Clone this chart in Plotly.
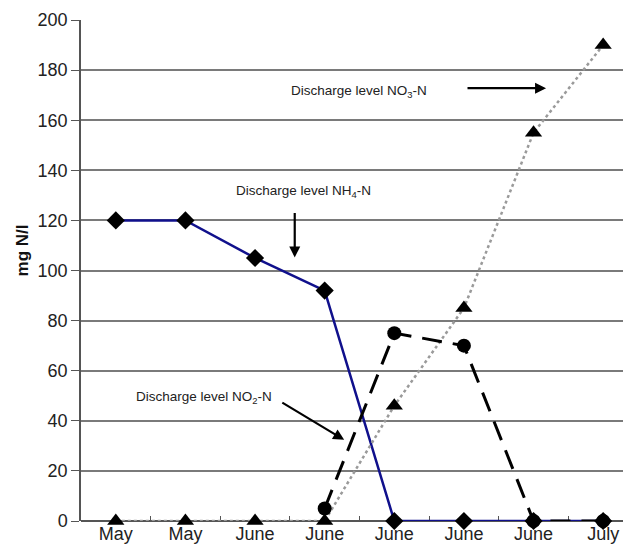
import plotly.graph_objects as go

months = ["May", "May", "June", "June", "June", "June", "June", "July"]
x_idx = list(range(len(months)))

nh4 = [120, 120, 105, 92, 0, 0, 0, 0]
no2_x = [3, 4, 5, 6, 7]
no2 = [5, 75, 70, 0, 0]
no3 = [0, 0, 0, 0, 46, 85, 155, 190]

FONT = "Liberation Sans, Arial, sans-serif"

fig = go.Figure()

fig.add_trace(go.Scatter(
    x=x_idx, y=nh4, mode="lines+markers",
    line=dict(color="#10108c", width=2.5),
    marker=dict(symbol="diamond", size=14, color="black"),
    showlegend=False, cliponaxis=False))

fig.add_trace(go.Scatter(
    x=x_idx, y=no3, mode="lines+markers",
    line=dict(color="#9a9a9a", width=2.5, dash="dot"),
    marker=dict(symbol="triangle-up", size=15, color="black"),
    showlegend=False, cliponaxis=False))

fig.add_trace(go.Scatter(
    x=no2_x, y=no2, mode="lines+markers",
    line=dict(color="black", width=3, dash="20px,11px"),
    marker=dict(symbol="circle", size=14, color="black"),
    showlegend=False, cliponaxis=False))

annots = []
txt_font = dict(family=FONT, size=13.5, color="#222")
annots.append(dict(x=2.70, y=131.6, xref="x", yref="y", text="Discharge level NH<sub>4</sub>-N",
                   showarrow=False, font=txt_font))
annots.append(dict(x=1.26, y=49.2, xref="x", yref="y", text="Discharge level NO<sub>2</sub>-N",
                   showarrow=False, font=txt_font))
annots.append(dict(x=3.49, y=171.6, xref="x", yref="y", text="Discharge level NO<sub>3</sub>-N",
                   showarrow=False, font=txt_font))
# arrows
for (tx, ty, hx, hy) in [(2.57, 123.6, 2.57, 105.2), (2.37, 47.6, 3.28, 32.4), (5.03, 172.8, 6.18, 172.8)]:
    annots.append(dict(x=hx, y=hy, ax=tx, ay=ty, xref="x", yref="y", axref="x", ayref="y",
                       text="", showarrow=True, arrowhead=2, arrowsize=1, arrowwidth=2.2,
                       arrowcolor="black"))
# y-axis title
annots.append(dict(x=-59 / 550, y=108, xref="paper", yref="y",
                   text="<b>mg N/l</b>", showarrow=False, textangle=-90,
                   font=dict(family=FONT, size=17, color="#111"),
                   xanchor="center", yanchor="middle"))

fig.update_layout(
    width=623, height=548,
    margin=dict(l=73, r=0, t=12, b=35),
    paper_bgcolor="white", plot_bgcolor="white",
    font=dict(family=FONT, size=18, color="#222"),
    annotations=annots,
    xaxis=dict(
        range=[-0.5, 7.40], tickvals=x_idx, ticktext=months, automargin=False,
        showgrid=False, zeroline=False, showline=False, ticks="", layer="below traces",
        tickfont=dict(size=18, color="#222"),
        minor=dict(tickvals=[0.5 + i for i in range(7)], ticks="inside", ticklen=5,
                   tickcolor="#555", tickwidth=1.2, showgrid=False),
    ),
    yaxis=dict(
        range=[0, 200], dtick=20, showgrid=True, gridcolor="#7a7a7a", gridwidth=1.5,
        zeroline=True, zerolinecolor="#555", zerolinewidth=1.5, automargin=False,
        showline=True, linecolor="#555", linewidth=1.5, layer="below traces",
        ticks="outside", ticklen=8, tickcolor="#555", tickwidth=1.2,
        tickfont=dict(size=18, color="#222"),
    ),
)

fig.write_html("out.html")
